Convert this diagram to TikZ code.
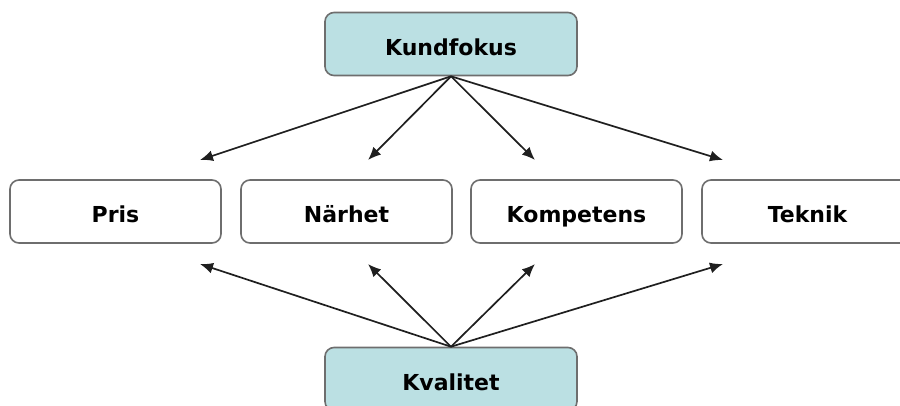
\documentclass[tikz,border=0pt]{standalone}
\usepackage{fontspec}
\setmainfont{DejaVu Sans}
\usetikzlibrary{arrows.meta}
\definecolor{boxline}{HTML}{6E6E6E}
\definecolor{headfill}{HTML}{BBE0E3}
\tikzset{
  card/.style={draw=boxline, line width=1.6pt, rounded corners=9pt, fill=white,
    minimum height=63pt, inner sep=0pt, text height=22pt, text depth=0pt,
    font=\fontsize{22}{26}\selectfont\bfseries},
  headcard/.style={card, fill=headfill, minimum width=252pt},
  itemcard/.style={card, minimum width=211pt},
  link/.style={line width=1.7pt, draw=black!88, -{Latex[length=13pt,width=11pt]}}
}
\begin{document}
\begin{tikzpicture}[x=1pt,y=-1pt]
  \clip (0,0) rectangle (900,405);
  % header and footer
  \node[headcard] (kund) at (451,44) {Kundfokus};
  \node[headcard] (kval) at (451,379) {Kvalitet};
  % middle row
  \node[itemcard] (pris) at (115.5,211.5) {Pris};
  \node[itemcard] (narhet) at (346.5,211.5) {Närhet};
  \node[itemcard] (komp) at (576.5,211.5) {Kompetens};
  \node[itemcard] (tek) at (807.5,211.5) {Teknik};
  % arrow tips above the row
  \coordinate (pt) at (200,160);
  \coordinate (nt) at (368,160);
  \coordinate (kt) at (535,160);
  \coordinate (tt) at (723,160);
  % arrow tips below the row
  \coordinate (pb) at (200,264);
  \coordinate (nb) at (368,264);
  \coordinate (kb) at (535,264);
  \coordinate (tb) at (723,264);
  \foreach \t in {pt,nt,kt,tt} \draw[link] (kund.south) -- (\t);
  \foreach \t in {pb,nb,kb,tb} \draw[link] (kval.north) -- (\t);
\end{tikzpicture}
\end{document}
